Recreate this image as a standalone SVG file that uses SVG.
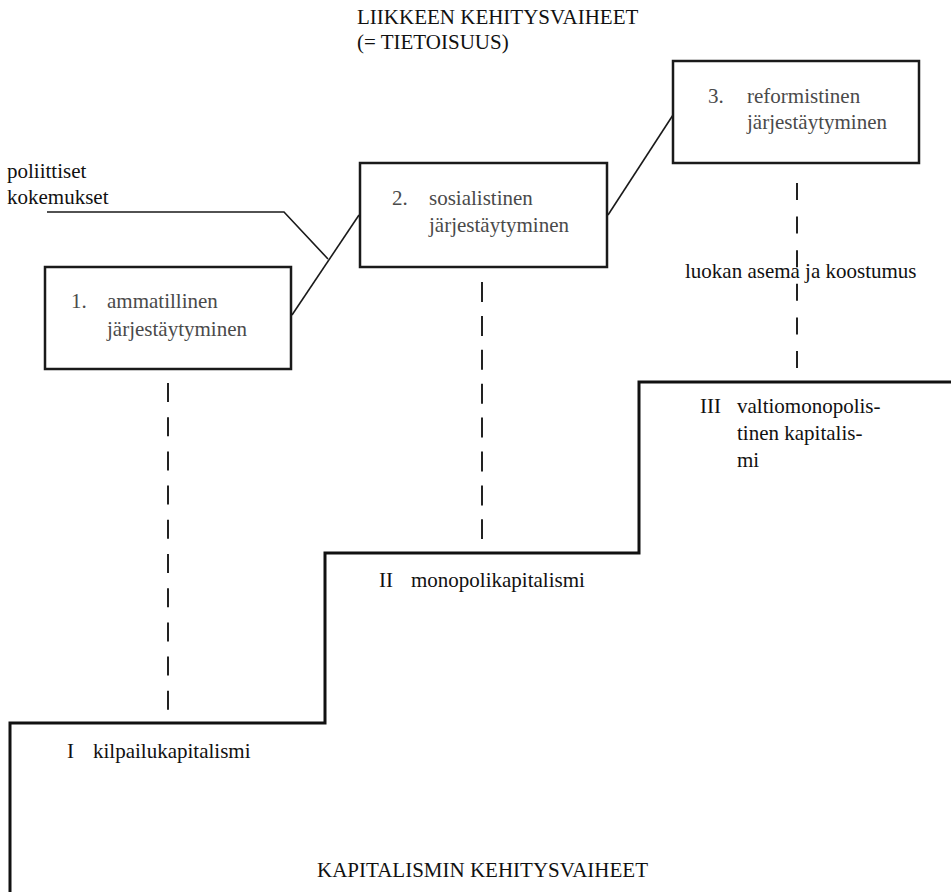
<svg xmlns="http://www.w3.org/2000/svg" width="951" height="892" viewBox="0 0 951 892">
<style>
  text { font-family: "Liberation Serif", "Times New Roman", serif; font-size: 21px; fill: #111; }
  .bt { fill: #4a4a4a; }
  .box { fill: #fff; stroke: #1a1a1a; stroke-width: 2.5; }
  .conn { fill: none; stroke: #1a1a1a; stroke-width: 1.6; }
  .dash { fill: none; stroke: #222; stroke-width: 2; }
  .stair { fill: none; stroke: #111; stroke-width: 3; }
</style>
<rect x="0" y="0" width="951" height="892" fill="#fff"/>

<g id="title-top">
  <text x="357" y="24">LIIKKEEN KEHITYSVAIHEET</text>
  <text x="357" y="49">(= TIETOISUUS)</text>
</g>

<g id="label-poliittiset">
  <text x="7" y="178">poliittiset</text>
  <text x="7" y="204">kokemukset</text>
</g>

<g id="connectors">
  <line class="conn" x1="292" y1="315" x2="359" y2="215"/>
  <line class="conn" x1="608" y1="215" x2="673" y2="115"/>
  <polyline class="conn" points="47,212 284,212 328,259"/>
  <line class="dash" x1="168" y1="383" x2="168" y2="710" stroke-dasharray="19 15.2"/>
  <line class="dash" x1="482" y1="282" x2="482" y2="539" stroke-dasharray="20 13.9"/>
  <line class="dash" x1="797" y1="183" x2="797" y2="368" stroke-dasharray="17 16.6"/>
</g>

<g id="box1">
  <rect class="box" x="45" y="267" width="246" height="102"/>
  <text class="bt" x="71" y="308">1.</text>
  <text class="bt" x="107" y="308">ammatillinen</text>
  <text class="bt" x="107" y="336">järjestäytyminen</text>
</g>

<g id="box2">
  <rect class="box" x="360" y="163" width="247" height="104"/>
  <text class="bt" x="392" y="205">2.</text>
  <text class="bt" x="429" y="205">sosialistinen</text>
  <text class="bt" x="429" y="232">järjestäytyminen</text>
</g>

<g id="box3">
  <rect class="box" x="673" y="61" width="246" height="102"/>
  <text class="bt" x="708" y="103">3.</text>
  <text class="bt" x="747" y="103">reformistinen</text>
  <text class="bt" x="747" y="129">järjestäytyminen</text>
</g>

<g id="label-luokan">
  <text x="685" y="278">luokan asema ja koostumus</text>
</g>

<g id="stairs">
  <path class="stair" d="M10,892 V723 H325 V553 H639 V382 H951"/>
</g>

<g id="stage1">
  <text x="67" y="758">I</text>
  <text x="93" y="758">kilpailukapitalismi</text>
</g>

<g id="stage2">
  <text x="379" y="587">II</text>
  <text x="411" y="587">monopolikapitalismi</text>
</g>

<g id="stage3">
  <text x="700" y="413">III</text>
  <text x="737" y="413">valtiomonopolis-</text>
  <text x="737" y="440">tinen kapitalis-</text>
  <text x="737" y="467">mi</text>
</g>

<g id="title-bottom">
  <text x="317" y="877">KAPITALISMIN KEHITYSVAIHEET</text>
</g>
</svg>
